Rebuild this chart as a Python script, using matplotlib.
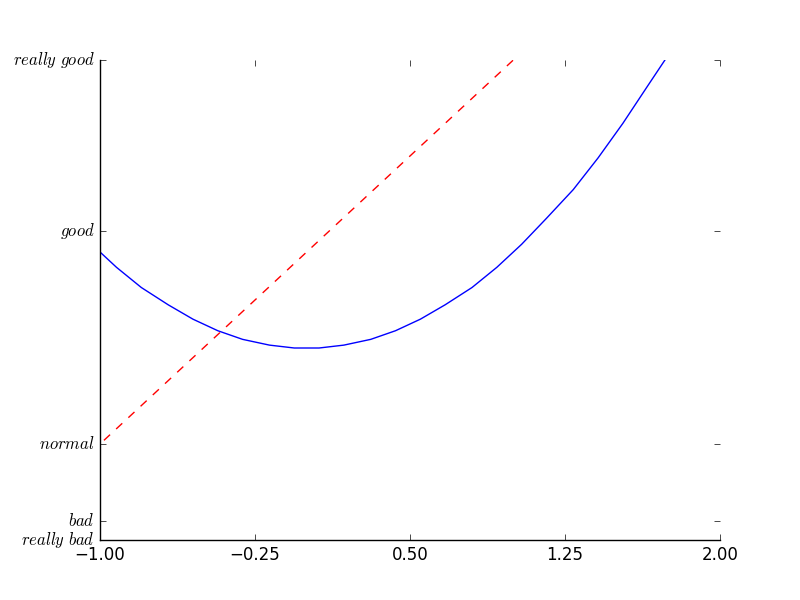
import matplotlib
matplotlib.use("Agg")
import matplotlib.pyplot as plt

plt.style.use('classic')

# sample points of the two curves
x_curve = [-1.04, -0.92, -0.80, -0.67, -0.55, -0.43, -0.31, -0.18, -0.06,
           0.06, 0.18, 0.31, 0.43, 0.55, 0.67, 0.80, 0.92, 1.04, 1.16,
           1.29, 1.41, 1.53, 1.65, 1.78]
y_curve = [1.08, 0.84, 0.63, 0.45, 0.30, 0.18, 0.09, 0.03, 0.00,
           0.00, 0.03, 0.09, 0.18, 0.30, 0.45, 0.63, 0.84, 1.08, 1.35,
           1.65, 1.98, 2.34, 2.73, 3.15]
x_line = [-1.04, 0.0, 1.04]
y_line = [-1.08, 1.0, 3.08]

x_ticks = [-1.0, -0.25, 0.5, 1.25, 2.0]
y_ticks = [-2, -1.8, -1, 1.22, 3]
y_labels = [r'$really\ bad$', r'$bad$', r'$normal$', r'$good$', r'$really\ good$']

fig = plt.figure(figsize=(8, 6), dpi=100)
ax = fig.add_subplot(111)
ax.plot(x_curve, y_curve, color='blue')
ax.plot(x_line, y_line, color='red', linewidth=1.0, linestyle='--')

ax.set_xlim(-1, 2)
ax.set_ylim(-2, 3)
ax.set_xticks(x_ticks)
ax.set_yticks(y_ticks)
ax.set_yticklabels(y_labels)

ax.spines['right'].set_color('none')
ax.spines['top'].set_color('none')

plt.savefig('out.png', dpi=100, facecolor='white')
